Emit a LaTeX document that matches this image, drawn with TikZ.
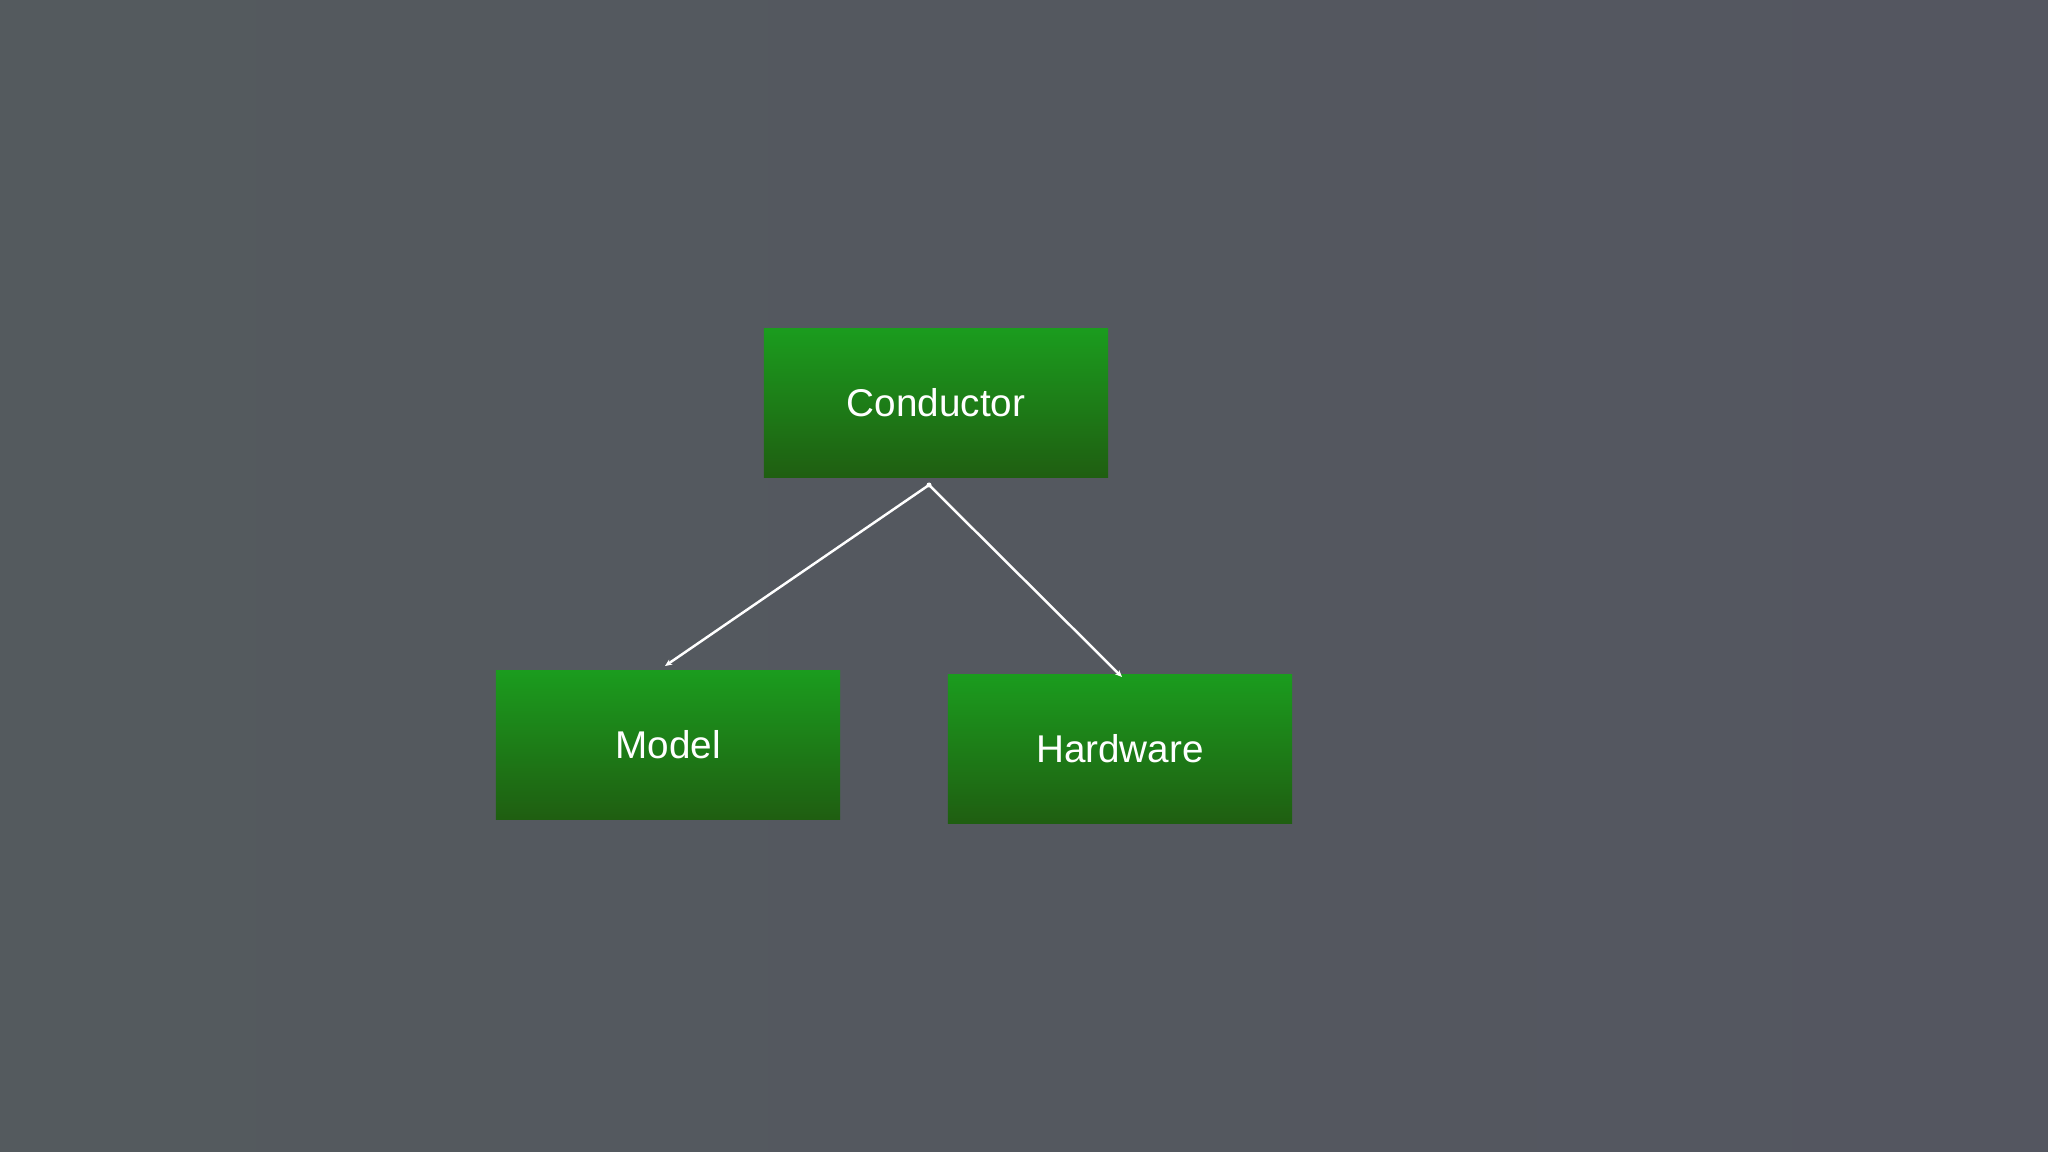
\documentclass[tikz,border=0pt]{standalone}
\usepackage{fontspec}
\setmainfont{Liberation Sans}
\usetikzlibrary{arrows.meta}
\definecolor{bgl}{HTML}{545A5E}
\definecolor{bgr}{HTML}{545660}
\definecolor{gtop}{HTML}{1B9C1E}
\definecolor{gbot}{HTML}{1F5E11}
\tikzset{
  box/.style={minimum width=3.44cm,minimum height=1.49cm,inner sep=0pt,top color=gtop,bottom color=gbot,draw=none,text=white,font=\fontsize{11}{13}\selectfont},
  link/.style={draw=white,line width=0.7pt,-{Stealth[length=0.07cm,width=0.06cm]}}
}
\begin{document}
\begin{tikzpicture}[x=0.01cm,y=-0.01cm]
\shade[left color=bgl,right color=bgr] (0,0) rectangle (2048,1152);
\useasboundingbox (0,0) rectangle (2048,1152);
\node[box] (cond) at (936,403) {Conductor};
\node[box] (model) at (668,745) {Model};
\node[box] (hw) at (1120,749) {Hardware};
\coordinate (apex) at (929,485);
\coordinate (mend) at (665,666);
\coordinate (hend) at (1122,677);
\fill[white] (apex) circle (0.025cm);
\draw[link] (apex) -- (mend);
\draw[link] (apex) -- (hend);
\end{tikzpicture}
\end{document}
